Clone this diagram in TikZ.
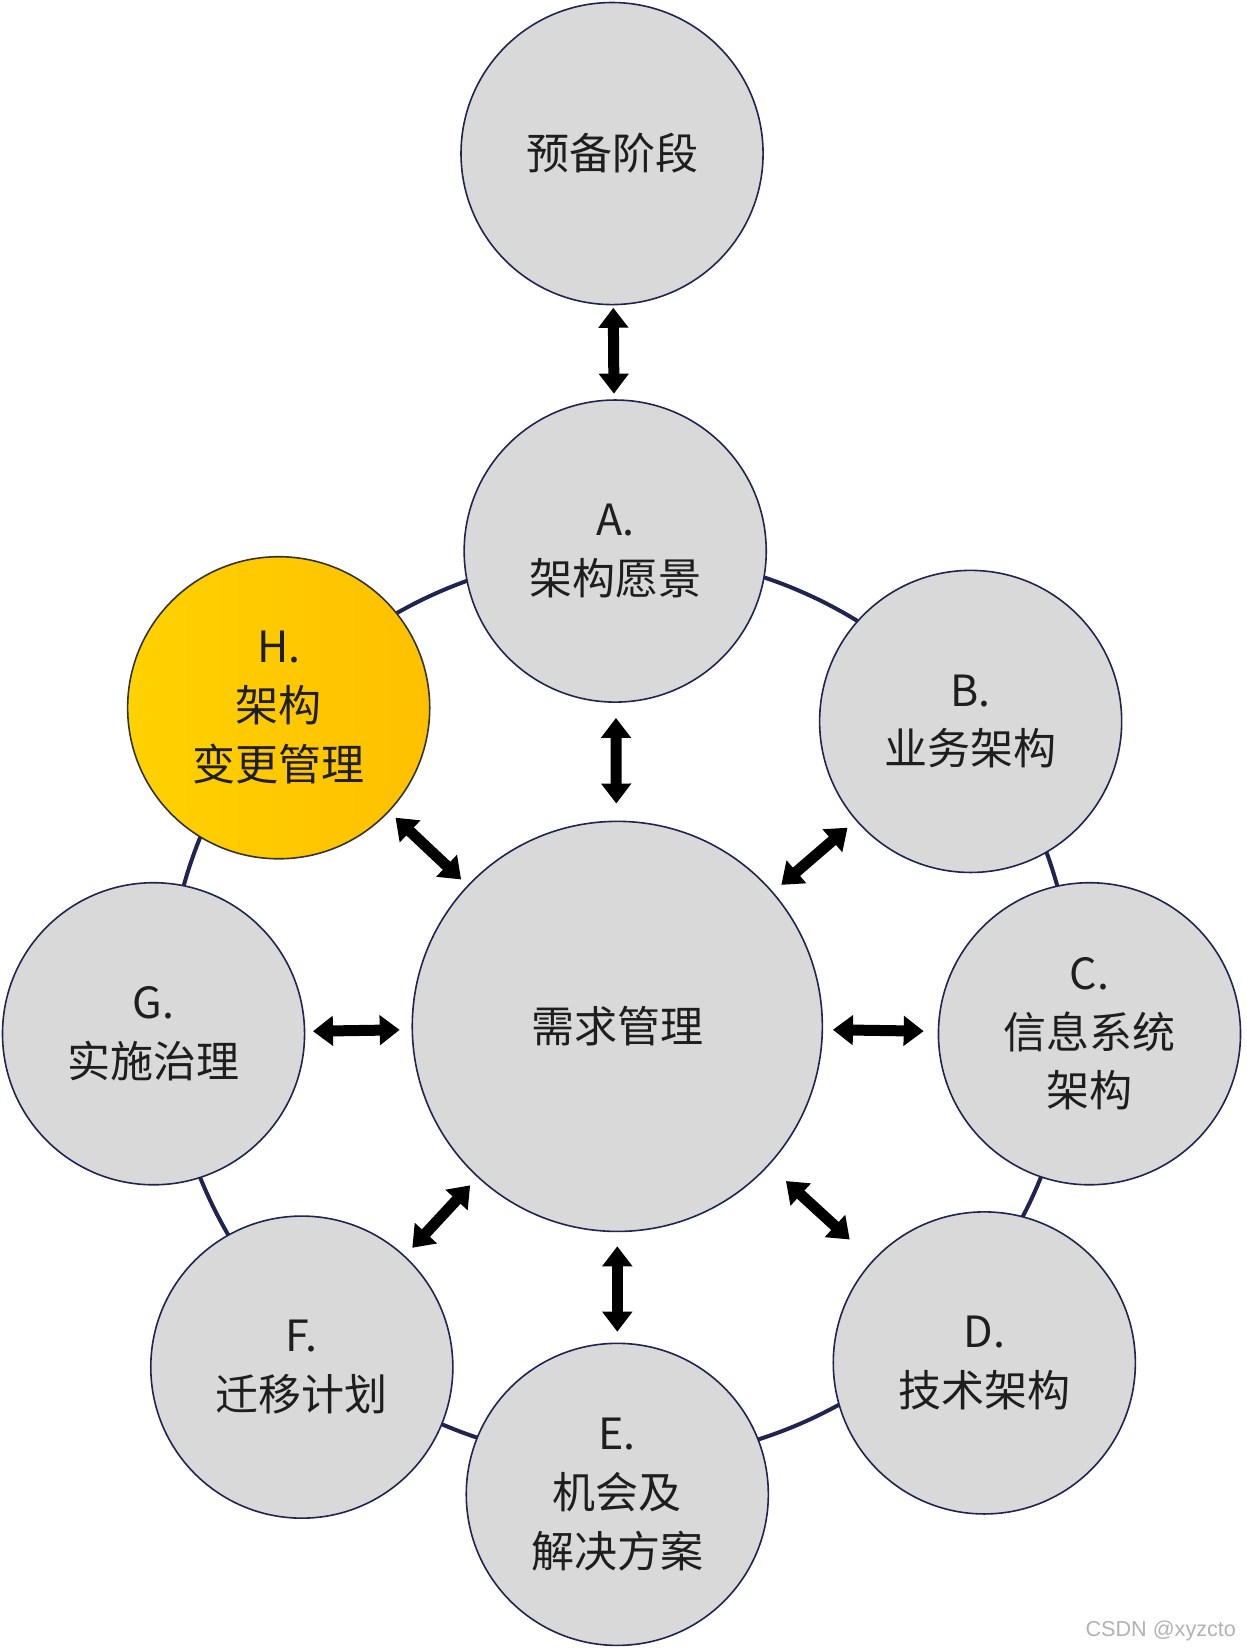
\documentclass[tikz,border=0pt]{standalone}
\usepackage{fontspec}
\setmainfont{Noto Sans CJK SC}
\newfontfamily\wmfont{Liberation Sans}
\usetikzlibrary{arrows.meta}
\definecolor{ringc}{RGB}{31,36,80}
\definecolor{circfill}{RGB}{217,217,217}
\definecolor{txt}{RGB}{30,30,30}
\definecolor{gold1}{RGB}{255,210,0}
\definecolor{gold2}{RGB}{255,192,0}
\tikzset{
  phase/.style={circle, draw=ringc, line width=0.8pt, fill=circfill,
    minimum size=151pt, inner sep=0pt, outer sep=0pt, align=center,
    text=txt, font=\fontsize{21.5pt}{29.4pt}\selectfont},
  dbl/.style={line width=5.5pt, black,
    {Triangle[length=10pt,width=14.5pt]}-{Triangle[length=10pt,width=14.5pt]}},
}
\begin{document}
\begin{tikzpicture}[x=0.5257pt,y=-0.5257pt]
\useasboundingbox (0,0) rectangle (1185,1569);
\draw[ringc, line width=2pt] (590,958) circle[radius=226.6pt];
\node[phase] (pre) at (582,146) {预备阶段};
\node[phase] (A) at (585,524) {A.\\架构愿景};
\node[phase] (B) at (923,686) {B.\\业务架构};
\node[phase] (C) at (1036,983) {C.\\信息系统\\架构};
\node[phase] (D) at (936,1296) {D.\\技术架构};
\node[phase] (E) at (587,1421) {E.\\机会及\\解决方案};
\node[phase] (F) at (287,1300) {F.\\迁移计划};
\node[phase] (G) at (146,983) {G.\\实施治理};
\node[phase, draw=black!80, left color=gold1, right color=gold2] (H) at (265,673) {H.\\架构\\变更管理};
\node[phase, minimum size=205pt] (M) at (587,976) {需求管理};
\draw[dbl, shorten <=1.6pt, shorten >=3.2pt] (pre) -- (A);
\draw[dbl, shorten <=7.9pt, shorten >=8.9pt] (A) -- (M);
\draw[dbl, shorten <=5.8pt, shorten >=5.8pt] (B) -- (M);
\draw[dbl, shorten <=5.3pt, shorten >=7.4pt] (M) -- (C);
\draw[dbl, shorten <=11.9pt, shorten >=15.8pt] (M) -- (D);
\draw[dbl, shorten <=7.4pt, shorten >=5.8pt] (M) -- (E);
\draw[dbl, shorten <=5.8pt, shorten >=5.8pt] (M) -- (F);
\draw[dbl, shorten <=4.2pt, shorten >=6.3pt] (G) -- (M);
\draw[dbl, shorten <=4.7pt, shorten >=4.7pt] (H) -- (M);
\node[font=\wmfont\fontsize{10.8pt}{12pt}\selectfont, text=black!30, anchor=east] (wm) at (1182,1551) {CSDN @xyzcto};
\end{tikzpicture}
\end{document}
